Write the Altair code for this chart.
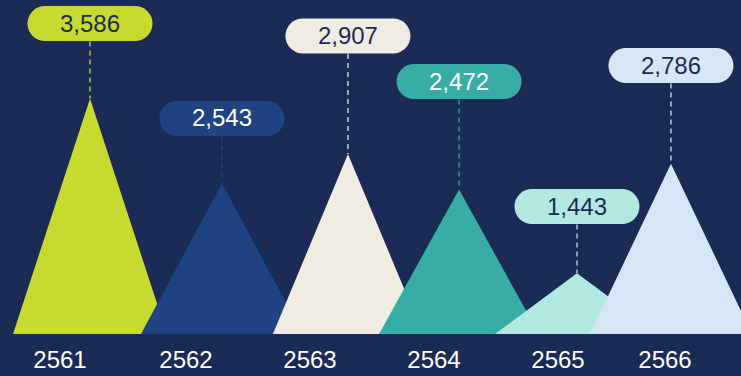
import altair as alt
import pandas as pd
import jinja2

# ---- data ----
years = ["2561", "2562", "2563", "2564", "2565", "2566"]
values = [3586, 2543, 2907, 2472, 1443, 2786]

# ---- layout (x in category steps, label level in value units) ----
apex_pos = [0.226, 1.290, 2.306, 3.202, 4.153, 4.911]
half_width = [0.621, 0.653, 0.605, 0.645, 0.661, 0.653]
year_label_pos = [-0.016, 1.0, 2.0, 3.0, 4.0, 4.863]
label_level = [4505, 3341, 4352, 3794, 2262, 3990]

# ---- styles ----
fill_colors = ["#c8d92f", "#204382", "#f0ece3", "#38ada6", "#b1e9e0", "#d5e7f5"]
text_colors = ["#1a2b55", "#ffffff", "#1a2b55", "#ffffff", "#1a2b55", "#1a2b55"]
BG = "#1a2b55"
FONT = "Liberation Sans"

W, H = 741, 334
STEP_PX = 124
Y_MIN, Y_MAX = 700, 4793
PILL_HALF = 0.363

# ---- tables built from the arrays ----
tri_rows = []
for y, v, a, hw in zip(years, values, apex_pos, half_width):
    tri_rows.append({"year": y, "px": a - hw, "py": Y_MIN})
    tri_rows.append({"year": y, "px": a, "py": v})
    tri_rows.append({"year": y, "px": a + hw, "py": Y_MIN})
tri = pd.DataFrame(tri_rows)

lab = pd.DataFrame({
    "year": years,
    "value": values,
    "apex": apex_pos,
    "pl": [a - PILL_HALF for a in apex_pos],
    "pr": [a + PILL_HALF for a in apex_pos],
    "level": label_level,
    "lpos": year_label_pos,
    "fill": fill_colors,
    "tcol": text_colors,
})

xs = alt.Scale(domain=[-0.5, -0.5 + W / STEP_PX], nice=False, zero=False)
ys = alt.Scale(domain=[Y_MIN, Y_MAX], nice=False, zero=False)

tri_layers = []
for y, c in zip(years, fill_colors):
    tri_layers.append(
        alt.Chart(tri).transform_filter(alt.datum.year == y).mark_area(color=c, opacity=1).encode(
            x=alt.X("px:Q", scale=xs, axis=None),
            y=alt.Y("py:Q", scale=ys, axis=None, stack=None),
        )
    )

dashes = alt.Chart(lab).mark_rule(strokeDash=[5, 4], strokeWidth=1.5, opacity=0.85).encode(
    x=alt.X("apex:Q", scale=xs, axis=None),
    y=alt.Y("level:Q", scale=ys, axis=None),
    y2="value:Q",
    color=alt.Color("fill:N", scale=None),
)

pills = alt.Chart(lab).mark_rule(strokeWidth=35, strokeCap="round").encode(
    x=alt.X("pl:Q", scale=xs, axis=None),
    x2="pr:Q",
    y=alt.Y("level:Q", scale=ys, axis=None),
    color=alt.Color("fill:N", scale=None),
)

pill_text = alt.Chart(lab).mark_text(font=FONT, fontSize=24, baseline="middle", align="center", dy=1).encode(
    x=alt.X("apex:Q", scale=xs, axis=None),
    y=alt.Y("level:Q", scale=ys, axis=None),
    text=alt.Text("value:Q", format=","),
    color=alt.Color("tcol:N", scale=None),
)

year_text = alt.Chart(lab).mark_text(font=FONT, fontSize=24, baseline="alphabetic", align="center", color="#ffffff").encode(
    x=alt.X("lpos:Q", scale=xs, axis=None),
    y=alt.value(H + 34),
    text="year:N",
)

chart = alt.layer(*tri_layers, dashes, pills, pill_text, year_text).properties(
    width=W,
    height=H,
    background=BG,
    padding={"left": 0, "top": 0, "right": 0, "bottom": 42},
    autosize=alt.AutoSizeParams(type="none"),
).configure_view(stroke=None)

PAGE = """<!DOCTYPE html>
<html>
<head>
<meta charset="utf-8">
<style>
html, body { margin: 0; padding: 0; background: BGCOLOR; overflow: hidden; }
#{{ output_div }}.vega-embed { width: 100%; display: flex; }
</style>
<script type="text/javascript" src="{{ base_url }}/vega@{{ vega_version }}"></script>
<script type="text/javascript" src="{{ base_url }}/vega-lite@{{ vegalite_version }}"></script>
<script type="text/javascript" src="{{ base_url }}/vega-embed@{{ vegaembed_version }}"></script>
</head>
<body>
<div id="{{ output_div }}"></div>
<script>
  var spec = {{ spec }};
  var embedOpt = {{ embed_options }};
  vegaEmbed("#{{ output_div }}", spec, embedOpt).catch(console.error);
</script>
</body>
</html>
""".replace("BGCOLOR", BG)

chart.save("out.html", embed_options={"renderer": "svg", "actions": False}, template=jinja2.Template(PAGE))
